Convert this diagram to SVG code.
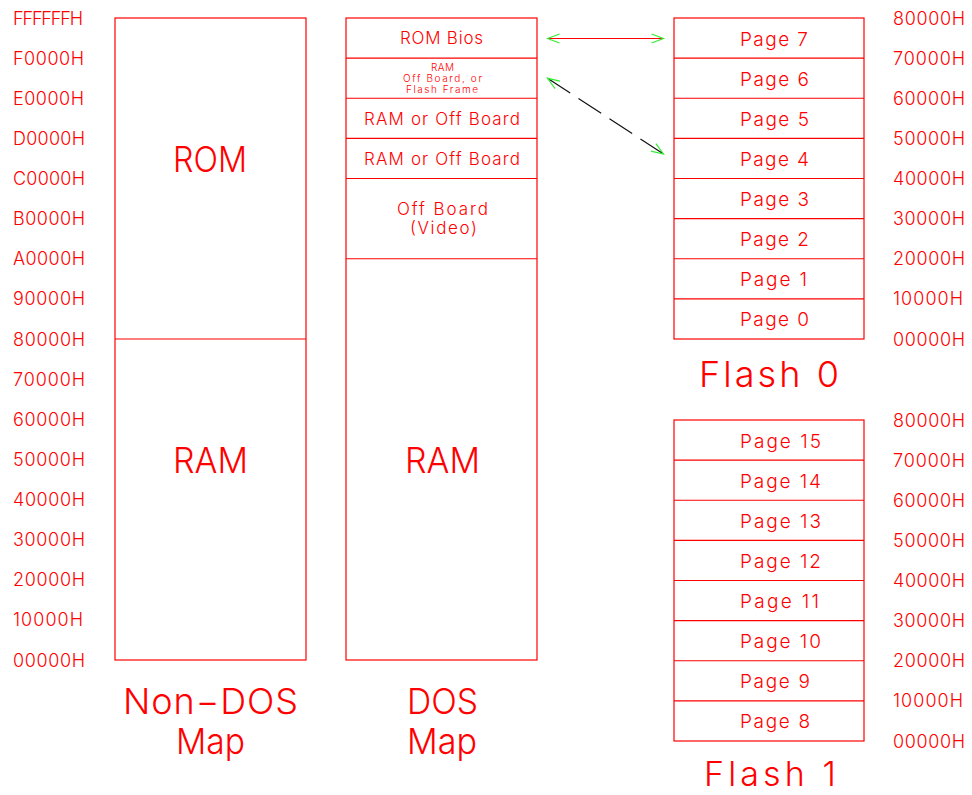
<svg xmlns="http://www.w3.org/2000/svg" width="972" height="795" viewBox="0 0 972 795">
<style>
.box{fill:none;stroke:#ff0000;stroke-width:1.2}
.ln{stroke:#ff0000;stroke-width:1.2}
text{font-family:"Inter","Liberation Sans",sans-serif;font-weight:300;fill:#ff0000}
.lab{font-size:18px}
.pg{font-size:19px}
.row{font-size:17px}
.sm{font-size:10px}
.big{font-size:36px}
.fl{font-size:34px}
</style>
<defs>
<marker id="chev" markerUnits="userSpaceOnUse" viewBox="-14 -7 16 14" markerWidth="16" markerHeight="14" refX="0" refY="0" orient="auto-start-reverse">
<path d="M -12 -4.5 L 0 0 L -12 4.5" fill="none" stroke="#33ee33" stroke-width="1.2"/>
</marker>
</defs>
<rect width="972" height="795" fill="#ffffff"/>

<g id="addr-left">
<text class="lab" x="13" y="24.5" textLength="70" lengthAdjust="spacing">FFFFFFH</text>
<text class="lab" x="13" y="64.6" textLength="71" lengthAdjust="spacing">F0000H</text>
<text class="lab" x="13" y="104.75" textLength="71" lengthAdjust="spacing">E0000H</text>
<text class="lab" x="13" y="144.9" textLength="72" lengthAdjust="spacing">D0000H</text>
<text class="lab" x="13" y="185" textLength="72" lengthAdjust="spacing">C0000H</text>
<text class="lab" x="13" y="225.1" textLength="72" lengthAdjust="spacing">B0000H</text>
<text class="lab" x="13" y="265.25" textLength="72" lengthAdjust="spacing">A0000H</text>
<text class="lab" x="13" y="305.4" textLength="72" lengthAdjust="spacing">90000H</text>
<text class="lab" x="13" y="345.5" textLength="72" lengthAdjust="spacing">80000H</text>
<text class="lab" x="13" y="385.6" textLength="72" lengthAdjust="spacing">70000H</text>
<text class="lab" x="13" y="425.75" textLength="72" lengthAdjust="spacing">60000H</text>
<text class="lab" x="13" y="465.9" textLength="72" lengthAdjust="spacing">50000H</text>
<text class="lab" x="13" y="506" textLength="72" lengthAdjust="spacing">40000H</text>
<text class="lab" x="13" y="546.1" textLength="72" lengthAdjust="spacing">30000H</text>
<text class="lab" x="13" y="586.25" textLength="72" lengthAdjust="spacing">20000H</text>
<text class="lab" x="13" y="626.4" textLength="70" lengthAdjust="spacing">10000H</text>
<text class="lab" x="13" y="666.5" textLength="72" lengthAdjust="spacing">00000H</text>
</g>

<g id="non-dos-map">
<rect class="box" x="115" y="18" width="191" height="642"/>
<line class="ln" x1="115" y1="339" x2="306" y2="339"/>
<text class="big" x="173" y="172" textLength="74" lengthAdjust="spacingAndGlyphs">ROM</text>
<text class="big" x="173" y="473" textLength="75" lengthAdjust="spacingAndGlyphs">RAM</text>
<text class="big" x="123" y="714" textLength="175" lengthAdjust="spacing">Non−DOS</text>
<text class="big" x="176" y="754" textLength="69" lengthAdjust="spacingAndGlyphs">Map</text>
</g>

<g id="dos-map">
<rect class="box" x="346" y="18" width="191" height="642"/>
<line class="ln" x1="346" y1="58.1" x2="537" y2="58.1"/>
<line class="ln" x1="346" y1="98.25" x2="537" y2="98.25"/>
<line class="ln" x1="346" y1="138.4" x2="537" y2="138.4"/>
<line class="ln" x1="346" y1="178.5" x2="537" y2="178.5"/>
<line class="ln" x1="346" y1="258.75" x2="537" y2="258.75"/>
<text class="row" x="400" y="44" textLength="83" lengthAdjust="spacing">ROM Bios</text>
<text class="sm" x="431" y="71" textLength="23" lengthAdjust="spacing">RAM</text>
<text class="sm" x="403" y="82" textLength="79" lengthAdjust="spacing">Off Board, or</text>
<text class="sm" x="406" y="93" textLength="72" lengthAdjust="spacing">Flash Frame</text>
<text class="row" x="364" y="125" textLength="156" lengthAdjust="spacing">RAM or Off Board</text>
<text class="row" x="364" y="165" textLength="156" lengthAdjust="spacing">RAM or Off Board</text>
<text class="row" x="397" y="215" textLength="91" lengthAdjust="spacing">Off Board</text>
<text class="row" x="410" y="234" textLength="67" lengthAdjust="spacing">(Video)</text>
<text class="big" x="405" y="473" textLength="75" lengthAdjust="spacingAndGlyphs">RAM</text>
<text class="big" x="407" y="714" textLength="71" lengthAdjust="spacingAndGlyphs">DOS</text>
<text class="big" x="407" y="754" textLength="70" lengthAdjust="spacingAndGlyphs">Map</text>
</g>

<g id="flash-0">
<rect class="box" x="674" y="18" width="190" height="321"/>
<line class="ln" x1="674" y1="58.1" x2="864" y2="58.1"/>
<line class="ln" x1="674" y1="98.25" x2="864" y2="98.25"/>
<line class="ln" x1="674" y1="138.4" x2="864" y2="138.4"/>
<line class="ln" x1="674" y1="178.5" x2="864" y2="178.5"/>
<line class="ln" x1="674" y1="218.6" x2="864" y2="218.6"/>
<line class="ln" x1="674" y1="258.75" x2="864" y2="258.75"/>
<line class="ln" x1="674" y1="298.9" x2="864" y2="298.9"/>
<text class="pg" x="740" y="45.5" textLength="68" lengthAdjust="spacing">Page 7</text>
<text class="pg" x="740" y="85.6" textLength="69" lengthAdjust="spacing">Page 6</text>
<text class="pg" x="740" y="125.75" textLength="69" lengthAdjust="spacing">Page 5</text>
<text class="pg" x="740" y="165.9" textLength="69" lengthAdjust="spacing">Page 4</text>
<text class="pg" x="740" y="206" textLength="69" lengthAdjust="spacing">Page 3</text>
<text class="pg" x="740" y="246.1" textLength="69" lengthAdjust="spacing">Page 2</text>
<text class="pg" x="740" y="286.25" textLength="67" lengthAdjust="spacing">Page 1</text>
<text class="pg" x="740" y="326.4" textLength="69" lengthAdjust="spacing">Page 0</text>
<text class="big" x="699" y="387" textLength="140" lengthAdjust="spacing">Flash 0</text>
<text class="lab" x="893" y="24.5" textLength="72" lengthAdjust="spacing">80000H</text>
<text class="lab" x="893" y="64.6" textLength="72" lengthAdjust="spacing">70000H</text>
<text class="lab" x="893" y="104.75" textLength="72" lengthAdjust="spacing">60000H</text>
<text class="lab" x="893" y="144.9" textLength="72" lengthAdjust="spacing">50000H</text>
<text class="lab" x="893" y="185" textLength="72" lengthAdjust="spacing">40000H</text>
<text class="lab" x="893" y="225.1" textLength="72" lengthAdjust="spacing">30000H</text>
<text class="lab" x="893" y="265.25" textLength="72" lengthAdjust="spacing">20000H</text>
<text class="lab" x="893" y="305.4" textLength="70" lengthAdjust="spacing">10000H</text>
<text class="lab" x="893" y="345.5" textLength="72" lengthAdjust="spacing">00000H</text>
</g>

<g id="flash-1">
<rect class="box" x="674" y="420" width="190" height="321"/>
<line class="ln" x1="674" y1="460.1" x2="864" y2="460.1"/>
<line class="ln" x1="674" y1="500.25" x2="864" y2="500.25"/>
<line class="ln" x1="674" y1="540.4" x2="864" y2="540.4"/>
<line class="ln" x1="674" y1="580.5" x2="864" y2="580.5"/>
<line class="ln" x1="674" y1="620.6" x2="864" y2="620.6"/>
<line class="ln" x1="674" y1="660.75" x2="864" y2="660.75"/>
<line class="ln" x1="674" y1="700.9" x2="864" y2="700.9"/>
<text class="pg" x="740" y="447.5" textLength="81" lengthAdjust="spacing">Page 15</text>
<text class="pg" x="740" y="487.6" textLength="81" lengthAdjust="spacing">Page 14</text>
<text class="pg" x="740" y="527.75" textLength="81" lengthAdjust="spacing">Page 13</text>
<text class="pg" x="740" y="567.9" textLength="81" lengthAdjust="spacing">Page 12</text>
<text class="pg" x="740" y="608" textLength="79" lengthAdjust="spacing">Page 11</text>
<text class="pg" x="740" y="648.1" textLength="81" lengthAdjust="spacing">Page 10</text>
<text class="pg" x="740" y="688.25" textLength="70" lengthAdjust="spacing">Page 9</text>
<text class="pg" x="740" y="728.4" textLength="70" lengthAdjust="spacing">Page 8</text>
<text class="fl" x="704" y="786" textLength="132" lengthAdjust="spacing">Flash 1</text>
<text class="lab" x="893" y="426.5" textLength="72" lengthAdjust="spacing">80000H</text>
<text class="lab" x="893" y="466.6" textLength="72" lengthAdjust="spacing">70000H</text>
<text class="lab" x="893" y="506.75" textLength="72" lengthAdjust="spacing">60000H</text>
<text class="lab" x="893" y="546.9" textLength="72" lengthAdjust="spacing">50000H</text>
<text class="lab" x="893" y="587" textLength="72" lengthAdjust="spacing">40000H</text>
<text class="lab" x="893" y="627.1" textLength="72" lengthAdjust="spacing">30000H</text>
<text class="lab" x="893" y="667.25" textLength="72" lengthAdjust="spacing">20000H</text>
<text class="lab" x="893" y="707.4" textLength="70" lengthAdjust="spacing">10000H</text>
<text class="lab" x="893" y="747.5" textLength="72" lengthAdjust="spacing">00000H</text>
</g>

<g id="connectors">
<line x1="547.5" y1="38.5" x2="663.5" y2="38.5" stroke="#ff0000" stroke-width="1.2" marker-start="url(#chev)" marker-end="url(#chev)"/>
<line x1="547.5" y1="78.3" x2="663.5" y2="154" stroke="#111111" stroke-width="1.2" stroke-dasharray="27.1 9.9" marker-start="url(#chev)" marker-end="url(#chev)"/>
</g>
</svg>
